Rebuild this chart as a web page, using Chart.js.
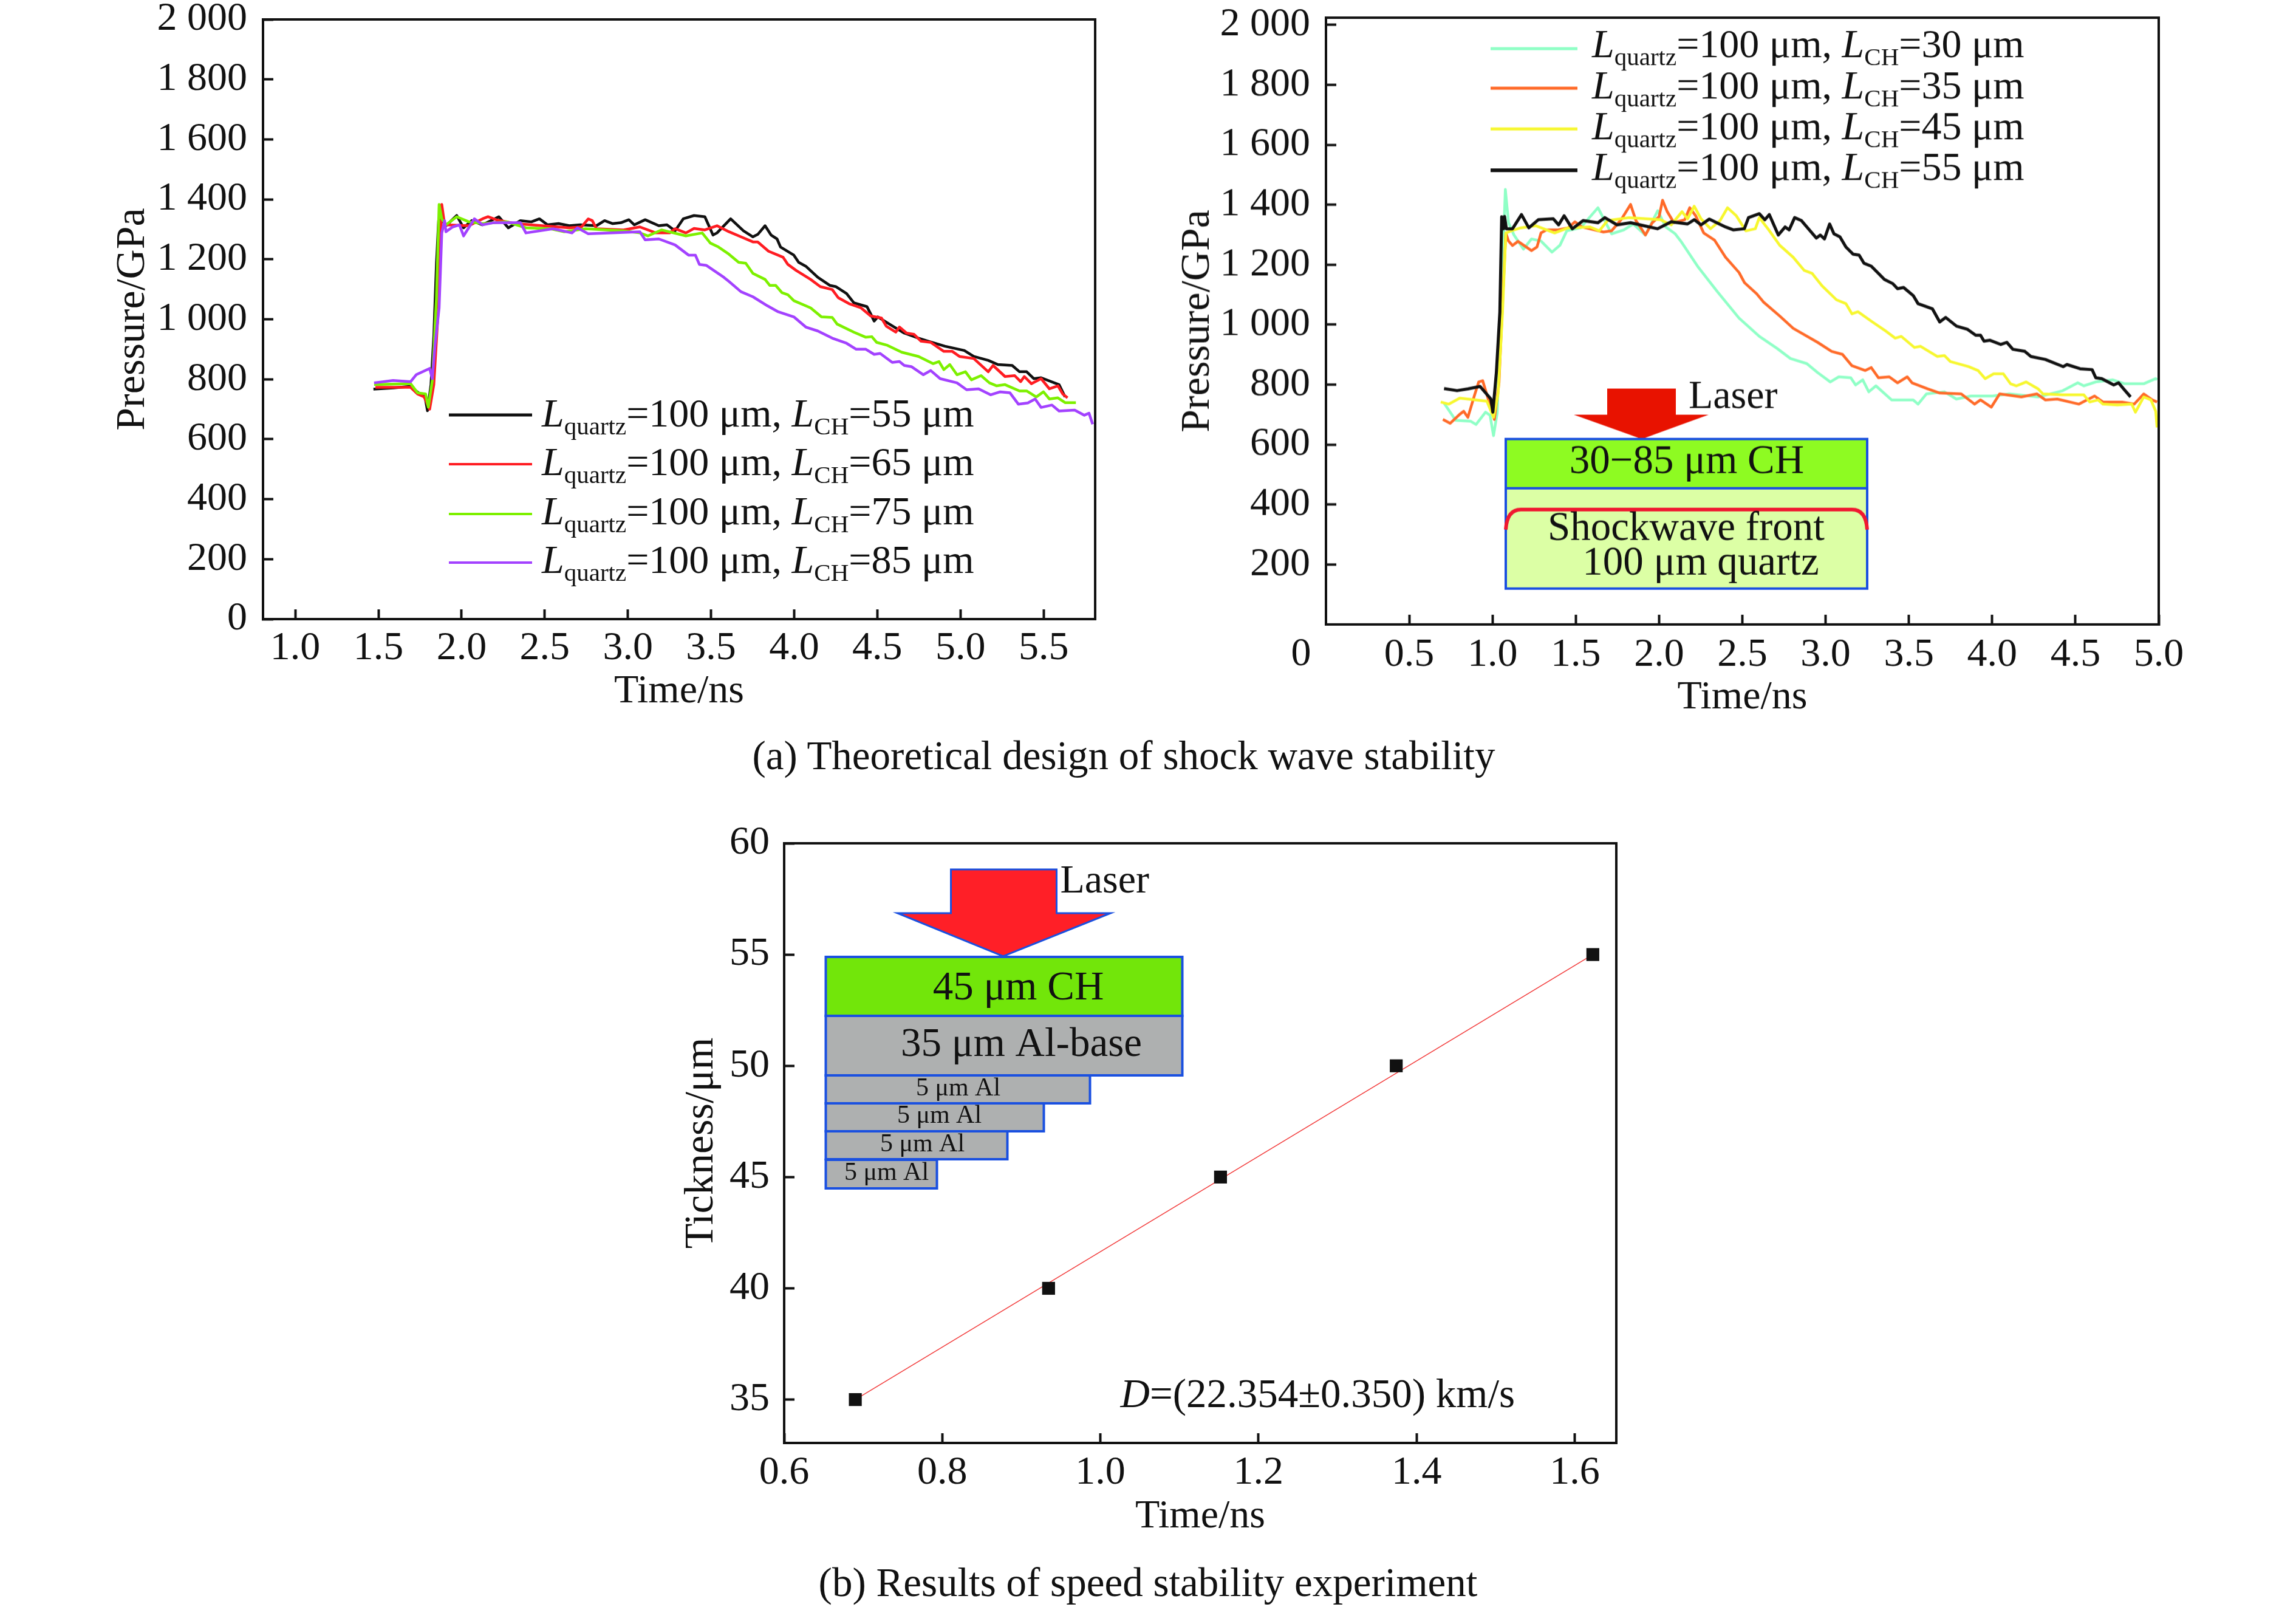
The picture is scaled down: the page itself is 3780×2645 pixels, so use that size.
<!DOCTYPE html>
<html lang="en">
<head>
<meta charset="UTF-8">
<title>Shock wave stability</title>
<script src="https://cdn.jsdelivr.net/npm/chart.js"></script>
<style>
  html, body { margin: 0; padding: 0; background: #fff; }
  body { position: relative; width: 3780px; height: 2645px; overflow: hidden; }
  canvas { position: absolute; }
  .caption { position: absolute; font: 67px/80px "Liberation Serif", serif; color: #111; text-align: center; white-space: pre; }
</style>
</head>
<body>
<canvas id="chartA"></canvas>
<canvas id="chartB"></canvas>
<canvas id="chartC"></canvas>
<div class="caption" style="left:0;width:3700px;top:1203px">(a) Theoretical design of shock wave stability</div>
<div class="caption" style="left:0;width:3780px;top:2564px">(b) Results of speed stability experiment</div>

<script>
// Panel (a) curves
const a55T = [1.47,1.59,1.69,1.74,1.78,1.795,1.816,1.833,1.849,1.862,1.88,1.906,1.971,2.012,2.061,2.126,2.224,2.281,2.354,2.42,2.468,2.517,2.583,2.648,2.713,2.811,2.86,2.909,2.958,3.006,3.039,3.104,3.186,3.235,3.284,3.333,3.398,3.463,3.512,3.536,3.618,3.695,3.752,3.781,3.825,3.861,3.897,3.918,3.998,4.027,4.07,4.142,4.214,4.25,4.315,4.359,4.438,4.46,4.481,4.503,4.59,4.662,4.748,4.806,4.907,5.023,5.08,5.167,5.225,5.311,5.355,5.398,5.441,5.485,5.593,5.629];
const a55P = [767,771,776,755,741,695,782,944,1187,1330,1332,1312,1346,1305,1329,1315,1342,1305,1329,1325,1335,1315,1319,1312,1315,1312,1329,1319,1322,1332,1315,1332,1312,1315,1295,1335,1346,1342,1281,1288,1335,1295,1275,1283,1312,1281,1268,1241,1214,1190,1177,1140,1113,1109,1086,1055,1042,1018,994,1008,978,954,937,927,910,896,876,863,849,846,825,825,802,805,782,741];
const a65T = [1.482,1.694,1.735,1.775,1.808,1.833,1.862,1.873,1.881,1.898,2.044,2.126,2.159,2.208,2.322,2.485,2.648,2.721,2.762,2.786,2.811,2.974,3.072,3.169,3.251,3.284,3.349,3.398,3.463,3.536,3.608,3.68,3.752,3.781,3.846,3.933,3.962,4.012,4.099,4.157,4.229,4.265,4.33,4.402,4.46,4.525,4.554,4.611,4.633,4.676,4.72,4.763,4.821,4.9,4.951,4.994,5.08,5.167,5.196,5.268,5.326,5.362,5.384,5.427,5.485,5.535,5.586,5.615,5.644];
const a65P = [773,773,751,741,700,782,1052,1254,1383,1315,1312,1335,1342,1332,1319,1312,1305,1308,1335,1329,1302,1298,1308,1288,1288,1302,1288,1303,1298,1312,1292,1275,1258,1258,1227,1207,1183,1163,1133,1109,1099,1072,1052,1038,1011,1004,977,957,974,954,950,927,923,893,893,876,869,825,846,809,812,792,809,785,802,768,778,751,738];
const a75T = [1.474,1.694,1.735,1.784,1.8,1.824,1.849,1.865,1.881,1.906,1.971,2.044,2.126,2.273,2.387,2.534,2.615,2.746,2.974,3.072,3.121,3.202,3.349,3.447,3.496,3.545,3.608,3.666,3.709,3.752,3.825,3.853,3.889,3.926,3.962,3.998,4.099,4.164,4.229,4.258,4.359,4.431,4.467,4.496,4.561,4.647,4.748,4.835,4.871,4.9,4.936,4.979,5.03,5.066,5.124,5.174,5.218,5.268,5.355,5.398,5.456,5.499,5.535,5.586,5.629,5.694];
const a75P = [782,785,755,751,707,795,1072,1383,1335,1315,1342,1325,1319,1325,1305,1302,1292,1302,1295,1288,1278,1298,1278,1288,1254,1241,1217,1190,1187,1153,1133,1113,1113,1089,1082,1062,1038,1008,1006,984,957,940,942,923,913,890,876,852,859,832,849,815,825,798,812,788,778,782,761,761,741,758,734,738,722,722];
const a85T = [1.474,1.588,1.694,1.727,1.808,1.824,1.841,1.865,1.881,1.898,1.906,1.947,1.987,2.012,2.077,2.126,2.191,2.354,2.387,2.55,2.664,2.697,2.762,3.072,3.104,3.186,3.284,3.365,3.406,3.43,3.471,3.577,3.608,3.68,3.752,3.839,3.904,3.998,4.07,4.142,4.229,4.315,4.373,4.431,4.481,4.517,4.59,4.633,4.662,4.705,4.777,4.821,4.878,4.979,5.037,5.109,5.181,5.239,5.297,5.348,5.405,5.449,5.485,5.55,5.593,5.687,5.745,5.773,5.795];
const a85P = [788,796,792,815,836,802,917,1038,1288,1329,1292,1308,1315,1278,1335,1315,1322,1322,1288,1302,1288,1305,1285,1292,1265,1268,1248,1214,1214,1183,1180,1140,1126,1092,1075,1045,1025,1008,974,961,937,920,900,900,883,886,856,859,846,842,815,829,802,788,765,768,748,758,755,717,721,734,706,714,694,697,680,687,650];

// Panel (a) right side curves
const b30T = [0.709,0.779,0.868,0.901,0.958,0.985,1.006,1.028,1.05,1.077,1.096,1.129,1.186,1.234,1.291,1.357,1.405,1.446,1.528,1.633,1.715,1.788,1.845,1.918,1.992,2.04,2.097,2.13,2.236,2.35,2.48,2.602,2.708,2.789,2.887,2.952,3.028,3.079,3.151,3.18,3.223,3.259,3.302,3.396,3.526,3.555,3.605,3.713,3.785,3.872,4.002,4.103,4.276,4.42,4.514,4.55,4.622,4.723,4.795,4.91,4.982,4.99];
const b30P = [738,681,678,667,708,698,630,705,1042,1451,1340,1299,1252,1286,1279,1242,1265,1313,1323,1390,1303,1316,1336,1299,1380,1326,1303,1279,1191,1110,1022,961,921,887,870,840,809,826,823,799,816,776,796,749,749,735,769,776,752,762,762,769,759,779,806,796,809,816,803,803,820,816];
const b35T = [0.702,0.746,0.803,0.827,0.852,0.892,0.917,0.941,0.974,1.011,1.039,1.063,1.08,1.096,1.12,1.153,1.234,1.267,1.291,1.324,1.389,1.454,1.495,1.536,1.666,1.715,1.772,1.829,1.861,1.894,1.918,1.959,2.0,2.021,2.049,2.089,2.154,2.184,2.22,2.268,2.333,2.399,2.48,2.513,2.586,2.626,2.724,2.805,2.952,3.036,3.101,3.158,3.238,3.274,3.317,3.382,3.432,3.49,3.519,3.612,3.685,3.814,3.894,3.93,3.995,4.045,4.175,4.269,4.319,4.391,4.521,4.615,4.665,4.78,4.853,4.91,4.961,4.99];
const b35P = [684,671,701,711,691,765,809,813,752,684,806,1110,1306,1279,1264,1278,1247,1259,1306,1316,1316,1323,1343,1326,1309,1313,1350,1401,1347,1320,1299,1340,1360,1415,1377,1340,1350,1390,1363,1306,1282,1225,1174,1140,1103,1076,1029,988,941,911,901,863,847,857,823,826,806,826,806,786,772,769,735,749,725,769,759,769,749,752,735,762,742,742,735,769,749,742];
const b45T = [0.689,0.738,0.803,0.966,1.006,1.034,1.06,1.08,1.112,1.169,1.259,1.373,1.454,1.584,1.641,1.69,1.82,2.008,2.073,2.138,2.171,2.211,2.252,2.309,2.366,2.411,2.464,2.521,2.578,2.602,2.659,2.724,2.805,2.871,2.919,2.978,3.065,3.122,3.158,3.194,3.281,3.353,3.418,3.454,3.533,3.569,3.67,3.713,3.749,3.858,3.915,3.958,4.009,4.067,4.11,4.146,4.204,4.276,4.305,4.42,4.55,4.586,4.636,4.665,4.752,4.838,4.86,4.91,4.953,4.982,4.99];
const b45P = [742,735,755,745,691,772,1042,1306,1313,1323,1330,1306,1323,1326,1313,1347,1357,1350,1333,1377,1353,1395,1353,1320,1347,1390,1363,1313,1320,1357,1316,1265,1225,1181,1171,1130,1083,1070,1036,1043,1009,982,955,961,924,928,894,897,877,860,847,820,836,836,803,796,809,786,769,766,766,742,749,735,732,735,708,759,749,711,657];
const b55T = [0.709,0.787,0.852,0.925,0.99,1.002,1.023,1.044,1.055,1.067,1.072,1.083,1.12,1.174,1.218,1.275,1.365,1.397,1.43,1.479,1.544,1.633,1.674,1.747,1.829,1.91,1.991,2.073,2.171,2.211,2.252,2.301,2.399,2.447,2.512,2.537,2.602,2.635,2.662,2.716,2.757,2.781,2.814,2.855,2.944,2.968,2.993,3.024,3.05,3.086,3.122,3.165,3.201,3.23,3.274,3.353,3.403,3.432,3.468,3.526,3.555,3.641,3.685,3.721,3.786,3.85,3.901,3.93,3.951,3.987,4.052,4.088,4.124,4.196,4.232,4.319,4.427,4.449,4.528,4.6,4.622,4.658,4.73,4.759,4.795,4.831];
const b55P = [787,780,786,794,752,708,840,1042,1360,1320,1361,1320,1320,1367,1323,1350,1353,1333,1363,1320,1347,1340,1357,1333,1340,1330,1320,1343,1336,1350,1333,1352,1326,1316,1320,1357,1370,1350,1367,1299,1326,1316,1357,1347,1289,1299,1286,1336,1303,1293,1259,1235,1232,1205,1195,1151,1137,1120,1124,1097,1070,1053,1009,1024,995,985,965,965,945,948,934,941,918,911,894,884,860,867,853,850,823,820,799,806,782,759];

// Panel (b) experiment
const stepTime = [0.69, 0.9345, 1.152, 1.3743, 1.623];
const stepThickness = [35, 40, 45, 50, 55];
const fitTime = [0.69, 1.623];
const fitThickness = [35, 55];

// Ticks
const pressureTicks = [0, 200, 400, 600, 800, 1000, 1200, 1400, 1600, 1800, 2000];
const pressureLabels = ['0', '200', '400', '600', '800', '1 000', '1 200', '1 400', '1 600', '1 800', '2 000'];
const timeTicksA = [1, 1.5, 2, 2.5, 3, 3.5, 4, 4.5, 5, 5.5];
const timeLabelsA = ['1.0', '1.5', '2.0', '2.5', '3.0', '3.5', '4.0', '4.5', '5.0', '5.5'];
const timeTicksB = [0.5, 1, 1.5, 2, 2.5, 3, 3.5, 4, 4.5, 5];
const timeLabelsB = ['0.5', '1.0', '1.5', '2.0', '2.5', '3.0', '3.5', '4.0', '4.5', '5.0'];
const timeTicksC = [0.6, 0.8, 1, 1.2, 1.4, 1.6];
const timeLabelsC = ['0.6', '0.8', '1.0', '1.2', '1.4', '1.6'];
const thickTicks = [35, 40, 45, 50, 55, 60];
const thickLabels = ['35', '40', '45', '50', '55', '60'];

const legendA = ['55', '65', '75', '85'];
const legendB = ['30', '35', '45', '55'];
const coloursA = ['#111111', '#ff1c22', '#7df000', '#a342ff'];
const coloursB = ['#8fffc6', '#ff6a28', '#f7f72e', '#111111'];

const SERIF = '"Liberation Serif", serif';
const INK = '#111';

function zip(xs, ys) { return xs.map((x, i) => ({ x, y: ys[i] })); }

function text(ctx, str, x, y, size, italic, align) {
  ctx.font = (italic ? 'italic ' : '') + size + 'px ' + SERIF;
  ctx.textAlign = align || 'left';
  ctx.textBaseline = 'alphabetic';
  ctx.fillStyle = INK;
  ctx.fillText(str, x, y);
  return ctx.measureText(str).width;
}

// one legend row: L_quartz=100 um, L_CH=nn um
function legendRow(ctx, colour, lineX0, lineX1, lineY, textX, base, len, lw) {
  ctx.strokeStyle = colour;
  ctx.lineWidth = lw;
  ctx.beginPath(); ctx.moveTo(lineX0, lineY); ctx.lineTo(lineX1, lineY); ctx.stroke();
  let x = textX;
  x += text(ctx, 'L', x, base, 66, true);
  x += text(ctx, 'quartz', x, base + 13, 41);
  x += text(ctx, '=100 μm, ', x, base, 66);
  x += text(ctx, 'L', x, base, 66, true);
  x += text(ctx, 'CH', x, base + 13, 41);
  text(ctx, '=' + len + ' μm', x, base, 66);
}

function box(ctx, x0, y0, x1, y1, fill, lw) {
  ctx.fillStyle = fill;
  ctx.fillRect(x0, y0, x1 - x0, y1 - y0);
  ctx.strokeStyle = '#1a50e0';
  ctx.lineWidth = lw;
  ctx.strokeRect(x0, y0, x1 - x0, y1 - y0);
}

function arrow(ctx, pts, fill, stroke) {
  ctx.beginPath();
  pts.forEach((p, i) => i ? ctx.lineTo(p[0], p[1]) : ctx.moveTo(p[0], p[1]));
  ctx.closePath();
  ctx.fillStyle = fill;
  ctx.fill();
  if (stroke) { ctx.strokeStyle = stroke; ctx.lineWidth = 3; ctx.stroke(); }
}

// plot box and title positions are page pixels
function panel(id, p) {
  const cv = document.getElementById(id);
  const cl = p.left - 400, ct = p.top - 100;
  const W = p.right - p.left + 520, H = p.bottom - ct + 300;
  cv.width = W; cv.height = H;
  cv.style.left = cl + 'px'; cv.style.top = ct + 'px';
  cv.style.width = W + 'px'; cv.style.height = H + 'px';

  const axisBase = (ticks, labels) => ({
    type: 'linear',
    afterBuildTicks: s => { s.ticks = ticks.map(v => ({ value: v })); },
    border: { color: INK, width: 4 },
    grid: { drawOnChartArea: false, tickColor: INK, tickWidth: 4 },
    ticks: {
      color: INK, autoSkip: false, maxRotation: 0, minRotation: 0,
      font: { family: SERIF, size: 66 },
      callback: (v, i) => labels[i]
    }
  });

  const x = axisBase(p.xTicks, p.xLabels);
  x.min = p.xMin; x.max = p.xMax;
  x.grid.tickLength = -16;
  x.ticks.padding = p.xPad;
  x.title = { display: true, text: p.xTitle, color: INK, padding: 0, font: { family: SERIF, size: 66 } };
  x.afterFit = s => { s.height = p.xTitleY + 40 - p.bottom; };

  const y = axisBase(p.yTicks, p.yLabels);
  y.min = p.yMin; y.max = p.yMax;
  y.grid.tickLength = -17;
  y.ticks.padding = p.yPad;
  y.title = { display: true, text: p.yTitle, color: INK, padding: 0, font: { family: SERIF, size: 68 } };
  y.afterFit = s => { s.width = p.left - (p.yTitleX - 40); };

  return new Chart(cv, {
    type: 'line',
    data: { datasets: p.datasets },
    options: {
      responsive: false, animation: false, devicePixelRatio: 1,
      layout: { padding: {
        left: p.yTitleX - 40 - cl,
        right: W - (p.right - cl),
        top: p.top - ct,
        bottom: H - (p.xTitleY + 40 - ct)
      } },
      scales: { x, y },
      plugins: { legend: { display: false }, tooltip: { enabled: false } }
    },
    plugins: [{
      id: 'frameAndNotes',
      afterDraw(chart) {
        const c = chart.ctx, a = chart.chartArea;
        c.save();
        c.strokeStyle = INK; c.lineWidth = 4;
        c.strokeRect(a.left, a.top, a.right - a.left, a.bottom - a.top);
        c.translate(-cl, -ct);
        p.notes(c);
        c.restore();
      }
    }]
  });
}

function curve(t, v, colour, i, lw) {
  return { data: zip(t, v), borderColor: colour, borderWidth: lw || 4.5, borderJoinStyle: 'round', pointRadius: 0, tension: 0, fill: false, order: -i };
}

panel('chartA', {
  left: 433, right: 1803, top: 32, bottom: 1019,
  xMin: 0.806, xMax: 5.81, yMin: 0, yMax: 2000,
  xTicks: timeTicksA, xLabels: timeLabelsA, yTicks: pressureTicks, yLabels: pressureLabels,
  xTitle: 'Time/ns', yTitle: 'Pressure/GPa', xTitleY: 1138, yTitleX: 218, xPad: 25, yPad: 43,
  datasets: [
    curve(a55T, a55P, coloursA[0], 0),
    curve(a65T, a65P, coloursA[1], 1),
    curve(a75T, a75P, coloursA[2], 2),
    curve(a85T, a85P, coloursA[3], 3)
  ],
  notes(c) {
    const lineY = [683, 764, 846, 926], base = [702, 782, 863, 943];
    legendA.forEach((len, i) => legendRow(c, coloursA[i], 739, 876, lineY[i], 892, base[i], len, i === 0 ? 5 : 4));
  }
});

panel('chartB', {
  left: 2183, right: 3554, top: 29, bottom: 1027.6,
  xMin: 0, xMax: 5, yMin: 0, yMax: 2024,
  xTicks: timeTicksB, xLabels: timeLabelsB,
  yTicks: pressureTicks.slice(1), yLabels: pressureLabels.slice(1),
  xTitle: 'Time/ns', yTitle: 'Pressure/GPa', xTitleY: 1148, yTitleX: 1971, xPad: 27, yPad: 43,
  datasets: [
    curve(b30T, b30P, coloursB[0], 0),
    curve(b35T, b35P, coloursB[1], 1),
    curve(b45T, b45P, coloursB[2], 2),
    curve(b55T, b55P, coloursB[3], 3, 5)
  ],
  notes(c) {
    const lineY = [80, 145, 212, 280], base = [94, 162, 229, 296];
    legendB.forEach((len, i) => legendRow(c, coloursB[i], 2454, 2597, lineY[i], 2621, base[i], len, i === 3 ? 6 : 5));
    text(c, '0', 2142, 1094, 66, false, 'center');
    // target sketch
    arrow(c, [[2646, 639], [2759, 639], [2759, 682], [2813, 682], [2703, 722], [2591, 682], [2646, 682]], '#e81200');
    text(c, 'Laser', 2780, 671, 66);
    box(c, 2479, 722, 3074, 803, '#8efb22', 4);
    box(c, 2479, 803, 3074, 968, '#dcffa5', 4);
    c.strokeStyle = '#f01830'; c.lineWidth = 6;
    c.beginPath();
    c.moveTo(2479, 871);
    c.quadraticCurveTo(2481, 838, 2504, 838);
    c.lineTo(3049, 838);
    c.quadraticCurveTo(3072, 838, 3074, 871);
    c.stroke();
    text(c, '30−85 μm CH', 2777, 778, 67, false, 'center');
    text(c, 'Shockwave front', 2776, 888, 67, false, 'center');
    text(c, '100 μm quartz', 2800, 945, 67, false, 'center');
  }
});

panel('chartC', {
  left: 1290.5, right: 2660.6, top: 1388, bottom: 2375,
  xMin: 0.6, xMax: 1.6527, yMin: 33.05, yMax: 60,
  xTicks: timeTicksC, xLabels: timeLabelsC, yTicks: thickTicks, yLabels: thickLabels,
  xTitle: 'Time/ns', yTitle: 'Tickness/μm', xTitleY: 2496, yTitleX: 1154, xPad: 26, yPad: 41,
  datasets: [
    { data: zip(fitTime, fitThickness), borderColor: '#f23a3a', borderWidth: 1.5, pointRadius: 0, order: 2 },
    { data: zip(stepTime, stepThickness), showLine: false, pointStyle: 'rect', pointRadius: 15, pointBackgroundColor: '#111', pointBorderWidth: 0, order: 1 }
  ],
  notes(c) {
    arrow(c, [[1565, 1431], [1739, 1431], [1739, 1503], [1828, 1503], [1651, 1574], [1477, 1503], [1565, 1503]], '#ff1f27', '#1a50e0');
    text(c, 'Laser', 1745, 1469, 66);
    box(c, 1359, 1575, 1946, 1672, '#72e60a', 4);
    box(c, 1359, 1672, 1946, 1770, '#aeb0b0', 4);
    box(c, 1359, 1770, 1794, 1816, '#aeb0b0', 4);
    box(c, 1359, 1816, 1718, 1862, '#aeb0b0', 4);
    box(c, 1359, 1862, 1658, 1908, '#aeb0b0', 4);
    box(c, 1359, 1909, 1542, 1956, '#aeb0b0', 4);
    text(c, '45 μm CH', 1676, 1645, 67, false, 'center');
    text(c, '35 μm Al-base', 1681, 1738, 67, false, 'center');
    text(c, '5 μm Al', 1577, 1803, 42, false, 'center');
    text(c, '5 μm Al', 1546, 1848, 42, false, 'center');
    text(c, '5 μm Al', 1518, 1895, 42, false, 'center');
    text(c, '5 μm Al', 1459, 1942, 42, false, 'center');
    let x = 1844;
    x += text(c, 'D', x, 2316, 67, true);
    text(c, '=(22.354±0.350) km/s', x, 2316, 67);
  }
});
</script>
</body>
</html>
